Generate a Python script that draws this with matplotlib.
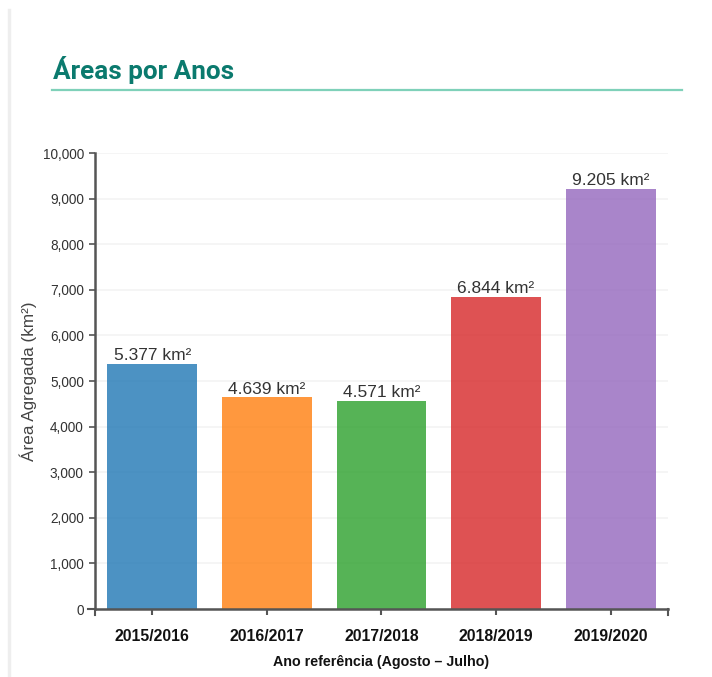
import matplotlib.pyplot as plt
from matplotlib.lines import Line2D
from matplotlib.ticker import FuncFormatter

# data
anos = ["2015/2016", "2016/2017", "2017/2018", "2018/2019", "2019/2020"]
areas = [5377, 4639, 4571, 6844, 9205]
cores = ["#1f77b4", "#ff7f0e", "#2ca02c", "#d62728", "#9467bd"]
y_ticks = list(range(0, 10001, 1000))

plt.rcParams["font.family"] = ["Liberation Sans", "DejaVu Sans"]

fig = plt.figure(figsize=(7.12, 6.77), dpi=100)
ax = fig.add_axes([0.1334, 0.1004, 0.8048, 0.6736])

x = range(len(anos))
ax.bar(x, areas, width=0.785, color=cores, alpha=0.8, zorder=2)

# value labels above bars
for xi, v in zip(x, areas):
    txt = f"{v:,}".replace(",", ".") + " km²"
    ax.text(xi, v + 85, txt, ha="center", va="baseline", fontsize=12.5, color="#333333")

ax.set_xlim(-0.5, 4.5)
ax.set_ylim(0, 10000)
ax.set_yticks(y_ticks)
ax.yaxis.set_major_formatter(FuncFormatter(lambda v, p: f"{int(v):,}"))
ax.set_xticks(list(x))
ax.set_xticklabels(anos, fontsize=11.3, fontweight="bold", color="#111111")

# grid
ax.grid(axis="y", color="#f3f3f3", linewidth=1.2, zorder=0)
ax.set_axisbelow(True)

for s in ["top", "right"]:
    ax.spines[s].set_visible(False)
for s in ["left", "bottom"]:
    ax.spines[s].set_color("#555555")
    ax.spines[s].set_linewidth(1.8)

ax.tick_params(axis="y", length=4.5, width=1.2, color="#555555", labelsize=9.8, labelcolor="#333333", pad=3.5)
ax.tick_params(axis="x", length=4.5, width=1.5, color="#555555", pad=10)

# outer end ticks (d3 style domain)
trans_y = ax.get_yaxis_transform()
ax.add_line(Line2D([-0.012, 0], [1, 1], transform=trans_y, color="#555555", lw=1.5, clip_on=False))
trans_x = ax.get_xaxis_transform()
for xe in [-0.5, 4.5]:
    ax.add_line(Line2D([xe, xe], [0, -0.013], transform=trans_x, color="#555555", lw=1.5, clip_on=False))

ax.set_ylabel("Área Agregada (km²)", fontsize=12.3, color="#444444")
ax.yaxis.set_label_coords(-0.117, 0.5)
ax.yaxis.label.set_va("center")
ax.set_xlabel("Ano referência (Agosto – Julho)", fontsize=10.3, fontweight="bold", color="#111111")
ax.xaxis.set_label_coords(0.5, -0.125)
ax.xaxis.label.set_va("baseline")

# title and underline
fig.text(53 / 712, 1 - 79 / 677, "Áreas por Anos", fontsize=18.8, fontweight="bold",
         color="#0b7a6e", family=["Roboto", "DejaVu Sans"], ha="left", va="baseline")
fig.add_artist(Line2D([52 / 712, 682 / 712], [1 - 89.5 / 677] * 2, color="#7fd1b9", lw=1.6))

# light gray left border
fig.add_artist(Line2D([9 / 712, 9 / 712], [0, 1 - 10 / 677], color="#eeeeee", lw=2.5))

fig.savefig("out.png", dpi=100)
